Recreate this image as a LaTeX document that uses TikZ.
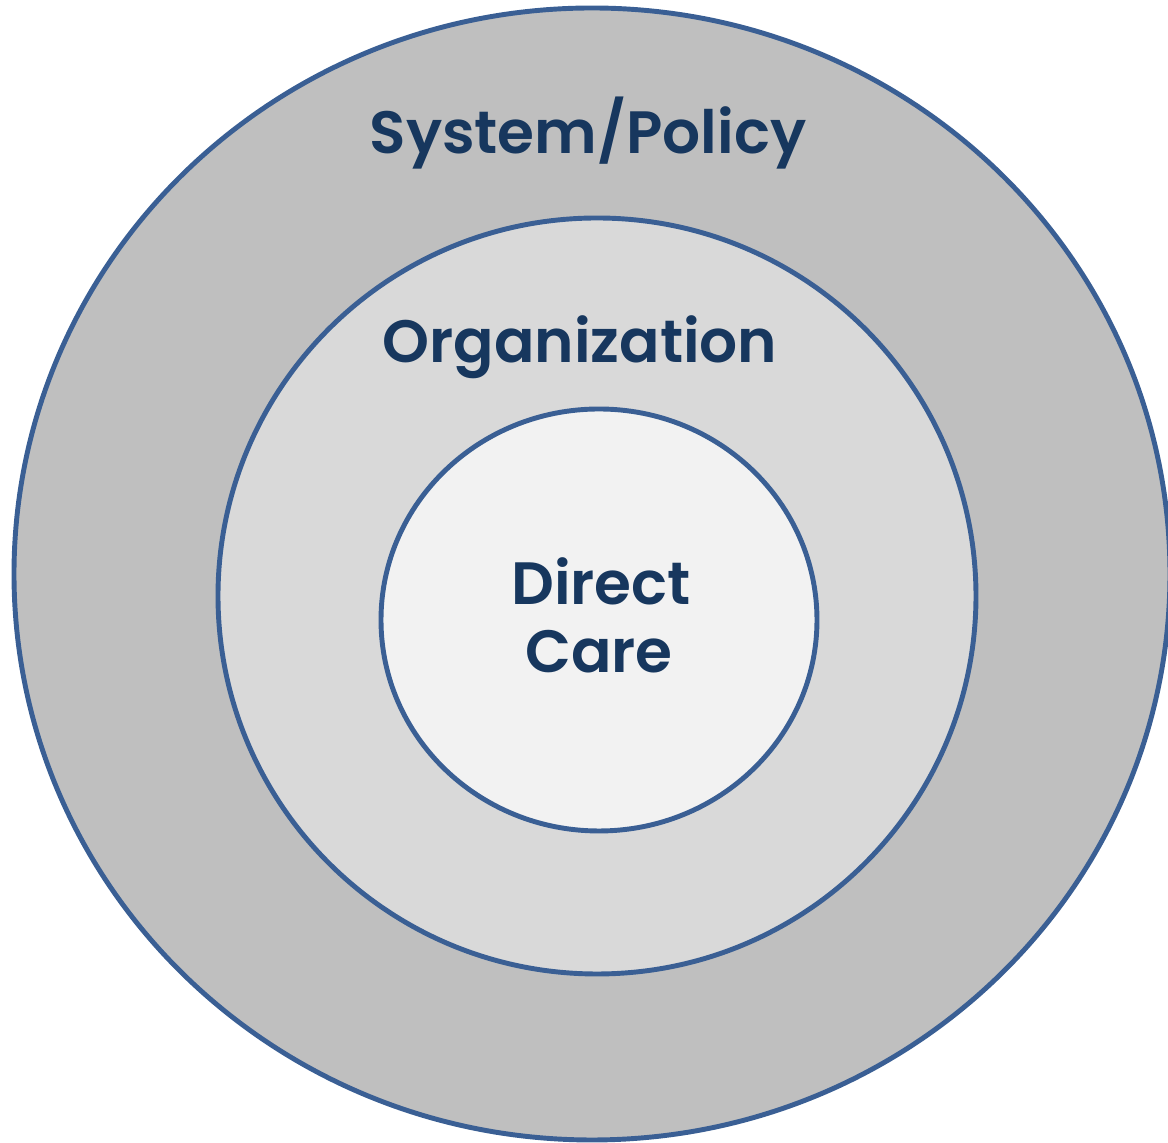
\documentclass[tikz,border=0pt]{standalone}
\usepackage{fontspec}
\setmainfont{Poppins}[BoldFont={Poppins SemiBold}]
\definecolor{ringline}{HTML}{3A5F94}
\definecolor{labeltext}{HTML}{17375E}
\definecolor{outerfill}{HTML}{BFBFBF}
\definecolor{midfill}{HTML}{D9D9D9}
\definecolor{innerfill}{HTML}{F2F2F2}
\tikzset{
  ring/.style={draw=ringline, line width=1.4pt},
  levellabel/.style={anchor=base, text=labeltext, font=\fontsize{17}{17}\selectfont\bfseries}
}
\begin{document}
\begin{tikzpicture}
  \useasboundingbox (0,0) rectangle (11.68,11.43);
  \draw[ring, fill=outerfill] (5.92,5.69) ellipse (5.78 and 5.66);
  \draw[ring, fill=midfill] (5.97,5.47) ellipse (3.79 and 3.78);
  \draw[ring, fill=innerfill] (5.99,5.23) ellipse (2.18 and 2.11);
  \node[levellabel] (system) at (5.88,9.89) {System/Policy};
  \node[levellabel] (org) at (5.80,7.80) {Organization};
  \node[levellabel] (direct) at (6.01,5.38) {Direct};
  \node[levellabel] (care) at (5.99,4.70) {Care};
\end{tikzpicture}
\end{document}
